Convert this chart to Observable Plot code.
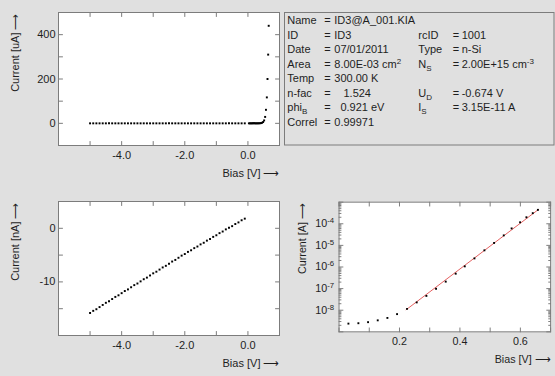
<!DOCTYPE html>
<html>
<head>
<meta charset="utf-8">
<script src="https://cdn.jsdelivr.net/npm/d3@7"></script>
<script src="https://cdn.jsdelivr.net/npm/@observablehq/plot@0.6"></script>
<style>
  html, body { margin: 0; padding: 0; }
  body { width: 555px; height: 376px; overflow: hidden; background: #e0e0e0; position: relative;
         font-family: "Liberation Sans", Arial, sans-serif; }
  .panel { position: absolute; }
  .panel svg { overflow: visible; }
</style>
</head>
<body>
<div id="p1" class="panel" style="left:0px;top:0px"></div>
<div id="info" class="panel" style="left:0px;top:0px"></div>
<div id="p2" class="panel" style="left:0px;top:189px"></div>
<div id="p3" class="panel" style="left:282px;top:189px"></div>
<script>
// ---------------- data ----------------
// reverse sweep, bias [V] and current [nA]
const revBias = [-5.0,-4.9,-4.8,-4.7,-4.6,-4.5,-4.4,-4.3,-4.2,-4.1,-4.0,-3.9,-3.8,-3.7,-3.6,-3.5,-3.4,-3.3,-3.2,-3.1,
                 -3.0,-2.9,-2.8,-2.7,-2.6,-2.5,-2.4,-2.3,-2.2,-2.1,-2.0,-1.9,-1.8,-1.7,-1.6,-1.5,-1.4,-1.3,-1.2,-1.1,
                 -1.0,-0.9,-0.8,-0.7,-0.6,-0.5,-0.4,-0.3,-0.2,-0.1];
const revCurrent_nA = [-15.8,-15.4,-15.1,-14.7,-14.3,-13.9,-13.6,-13.2,-12.8,-12.5,-12.1,-11.7,-11.4,-11.0,-10.6,-10.3,-9.9,-9.5,-9.2,-8.8,
                       -8.4,-8.1,-7.7,-7.3,-7.0,-6.6,-6.2,-5.9,-5.5,-5.1,-4.8,-4.4,-4.1,-3.7,-3.4,-3.0,-2.7,-2.3,-2.0,-1.6,
                       -1.3,-0.9,-0.6,-0.2,0.1,0.4,0.8,1.1,1.5,1.8];
// forward sweep, bias [V] and current [A]
const fwdBias = [0.031,0.064,0.096,0.128,0.160,0.192,0.225,0.257,0.289,0.321,0.353,0.386,0.416,0.448,0.481,0.513,0.545,0.571,0.599,0.620,0.641,0.658];
const fwdCurrent_A = [2.4e-9,2.5e-9,2.8e-9,3.4e-9,4.4e-9,6.6e-9,1.15e-8,2.3e-8,4.6e-8,9.8e-8,2.1e-7,4.9e-7,1.07e-6,2.5e-6,5.9e-6,1.3e-5,2.9e-5,6.1e-5,1.17e-4,2.0e-4,3.1e-4,4.4e-4];
// fitted diode line (end points)
const fitBias = [0.222, 0.660];
const fitCurrent_A = [1.05e-8, 4.6e-4];

// ticks
const biasTicks = [-6,-5,-4,-3,-2,-1,0,1];
const biasLabelTicks = [-4,-2,0];
const uATicks = [-100,0,100,200,300,400,500];
const uALabelTicks = [0,200,400];
const nATicks = [-20,-15,-10,-5,0,5];
const nALabelTicks = [-10,0];
const fwdBiasTicks = [0,0.1,0.2,0.3,0.4,0.5,0.6,0.7];
const fwdBiasLabelTicks = [0.2,0.4,0.6];
const decadeTicks = [1e-9,1e-8,1e-7,1e-6,1e-5,1e-4,1e-3];
const decadeLabelTicks = [1e-8,1e-7,1e-6,1e-5,1e-4];
const minorMultipliers = [2,3,4,5,6,7,8,9];

// axis labels
const xLabel = "Bias [V] \u27F6";
const yLabels = ["Current [uA] \u27F6", "Current [nA] \u27F6", "Current [A] \u27F6"];

// parameter box
const infoKeys1 = ["Name","ID","Date","Area","Temp","n-fac","phi_B","Correl"];
const infoVals1 = ["ID3@A_001.KIA","ID3","07/01/2011","8.00E-03 cm^2","300.00 K","\u00A0\u00A0\u00A01.524","\u00A0\u00A00.921 eV","0.99971"];
const infoKeys2 = [null,"rcID","Type","N_S",null,"U_D","I_S",null];
const infoVals2 = [null,"1001","n-Si","2.00E+15 cm^-3",null,"-0.674 V","3.15E-11 A",null];

// ---------------- helpers ----------------
const FRAME = "#7c7c7c";
const INK = "#1e1e1e";
const tickShape = {draw(ctx, l) { ctx.moveTo(0, 0); ctx.lineTo(0, -l); }};
function xTicks(values, len) {
  return ["bottom", "top"].map((a) => Plot.vector(values, {
    x: (d) => d, frameAnchor: a, length: len, rotate: a === "bottom" ? 0 : 180,
    anchor: "start", shape: tickShape, stroke: FRAME, strokeWidth: 1
  }));
}
function yTicks(values, len) {
  return ["left", "right"].map((a) => Plot.vector(values, {
    y: (d) => d, frameAnchor: a, length: len, rotate: a === "left" ? 90 : -90,
    anchor: "start", shape: tickShape, stroke: FRAME, strokeWidth: 1
  }));
}
const baseStyle = {background: "transparent", fontFamily: "'Liberation Sans', Arial, sans-serif", fontSize: "11px", color: INK, overflow: "visible"};
function axisLabels(yLabel, ydx) {
  return [
    Plot.text([xLabel], {text: (d) => d, frameAnchor: "bottom-right", textAnchor: "end", lineAnchor: "middle", dy: 28, fill: INK}),
    Plot.text([yLabel], {text: (d) => d, frameAnchor: "top-left", rotate: -90, textAnchor: "end", lineAnchor: "middle", dx: ydx, dy: 1, fill: INK})
  ];
}
const fmt1 = (d) => d.toFixed(1);

const rev = revBias.map((v, i) => ({V: v, nA: revCurrent_nA[i], uA: revCurrent_nA[i] / 1000}));
const fwd = fwdBias.map((v, i) => ({V: v, A: fwdCurrent_A[i], uA: fwdCurrent_A[i] * 1e6}));
const fit = fitBias.map((v, i) => ({V: v, A: fitCurrent_A[i]}));
const dotOpts = {symbol: "square", r: 1.1, fill: "#000"};

// ---------------- panel 1: linear, uA ----------------
const p1 = Plot.plot({
  width: 280, height: 185, marginLeft: 58, marginRight: 1, marginTop: 12, marginBottom: 40,
  style: baseStyle,
  x: {domain: [-6, 1]},
  y: {domain: [-100, 500]},
  marks: [
    Plot.frame({fill: "white", stroke: null}),
    ...xTicks(biasTicks, 4),
    ...yTicks(uATicks, 4),
    Plot.dot(rev, {x: "V", y: "uA", ...dotOpts}),
    Plot.dot(fwd, {x: "V", y: "uA", ...dotOpts}),
    Plot.frame({stroke: FRAME}),
    Plot.axisX(biasLabelTicks, {tickSize: 0, tickPadding: 6, tickFormat: fmt1, label: null}),
    Plot.axisY(uALabelTicks, {tickSize: 0, tickPadding: 3, tickFormat: (d) => String(d), label: null}),
    ...axisLabels(yLabels[0], -43)
  ]
});
document.getElementById("p1").append(p1);

// ---------------- panel 2: linear, nA ----------------
const p2 = Plot.plot({
  width: 280, height: 187, marginLeft: 58, marginRight: 1, marginTop: 12, marginBottom: 41,
  style: baseStyle,
  x: {domain: [-6, 1]},
  y: {domain: [-20, 5]},
  marks: [
    Plot.frame({fill: "white", stroke: null}),
    ...xTicks(biasTicks, 4),
    ...yTicks(nATicks, 4),
    Plot.dot(rev, {x: "V", y: "nA", ...dotOpts}),
    Plot.frame({stroke: FRAME}),
    Plot.axisX(biasLabelTicks, {tickSize: 0, tickPadding: 6, tickFormat: fmt1, label: null}),
    Plot.axisY(nALabelTicks, {tickSize: 0, tickPadding: 3, tickFormat: (d) => String(d), label: null}),
    ...axisLabels(yLabels[1], -43)
  ]
});
document.getElementById("p2").append(p2);

// ---------------- panel 3: log, A ----------------
const minorTicks = decadeTicks.slice(0, -1).flatMap((d) => minorMultipliers.map((m) => d * m));
const p3 = Plot.plot({
  width: 280, height: 187, marginLeft: 58, marginRight: 5, marginTop: 13, marginBottom: 41,
  style: baseStyle,
  x: {domain: [0, 0.7]},
  y: {type: "log", domain: [1e-9, 1e-3]},
  marks: [
    Plot.frame({fill: "white", stroke: null}),
    ...xTicks(fwdBiasTicks, 4),
    ...yTicks(decadeTicks, 4),
    ...yTicks(minorTicks, 2),
    Plot.line(fit, {x: "V", y: "A", stroke: "#e35b5b", strokeWidth: 1}),
    Plot.dot(fwd, {x: "V", y: "A", ...dotOpts}),
    Plot.frame({stroke: FRAME}),
    Plot.axisX(fwdBiasLabelTicks, {tickSize: 0, tickPadding: 6, tickFormat: fmt1, label: null}),
    Plot.axisY(decadeLabelTicks, {tickSize: 0, tickPadding: 5, tickFormat: (d) => "10^" + Math.round(Math.log10(d)), label: null}),
    ...axisLabels(yLabels[2], -37)
  ]
});
p3.querySelectorAll('[aria-label="y-axis tick label"] text').forEach((t) => {
  const m = t.textContent.match(/^10\^(.+)$/);
  if (!m) return;
  t.textContent = "10";
  const s = document.createElementNS("http://www.w3.org/2000/svg", "tspan");
  s.setAttribute("font-size", "8");
  s.setAttribute("baseline-shift", "4");
  s.textContent = m[1];
  t.append(s);
});
document.getElementById("p3").append(p3);

// ---------------- parameter box ----------------
function rich(sel, str) {
  str.split(/(_[A-Za-z]+|\^-?\d+)/).forEach((part) => {
    if (!part) return;
    if (part[0] === "_") sel.append("tspan").attr("font-size", 8).attr("baseline-shift", -3).text(part.slice(1));
    else if (part[0] === "^") sel.append("tspan").attr("font-size", 8).attr("baseline-shift", 4).text(part.slice(1));
    else sel.append("tspan").text(part);
  });
}
const info = d3.create("svg").attr("width", 555).attr("height", 150)
  .attr("font-family", "'Liberation Sans', Arial, sans-serif").attr("font-size", 11).attr("fill", INK);
info.append("rect").attr("x", 284.5).attr("y", 12.5).attr("width", 269.5).attr("height", 132.5)
  .attr("fill", "none").attr("stroke", FRAME);
const colX = [287.3, 324.3, 334.3, 418.3, 452.7, 461.7];
infoKeys1.forEach((k, i) => {
  const y = 24 + 14.5 * i;
  rich(info.append("text").attr("x", colX[0]).attr("y", y), k);
  info.append("text").attr("x", colX[1]).attr("y", y).text("=");
  rich(info.append("text").attr("x", colX[2]).attr("y", y), infoVals1[i]);
  if (infoKeys2[i]) {
    rich(info.append("text").attr("x", colX[3]).attr("y", y), infoKeys2[i]);
    info.append("text").attr("x", colX[4]).attr("y", y).text("=");
    rich(info.append("text").attr("x", colX[5]).attr("y", y), infoVals2[i]);
  }
});
document.getElementById("info").append(info.node());
</script>
</body>
</html>
